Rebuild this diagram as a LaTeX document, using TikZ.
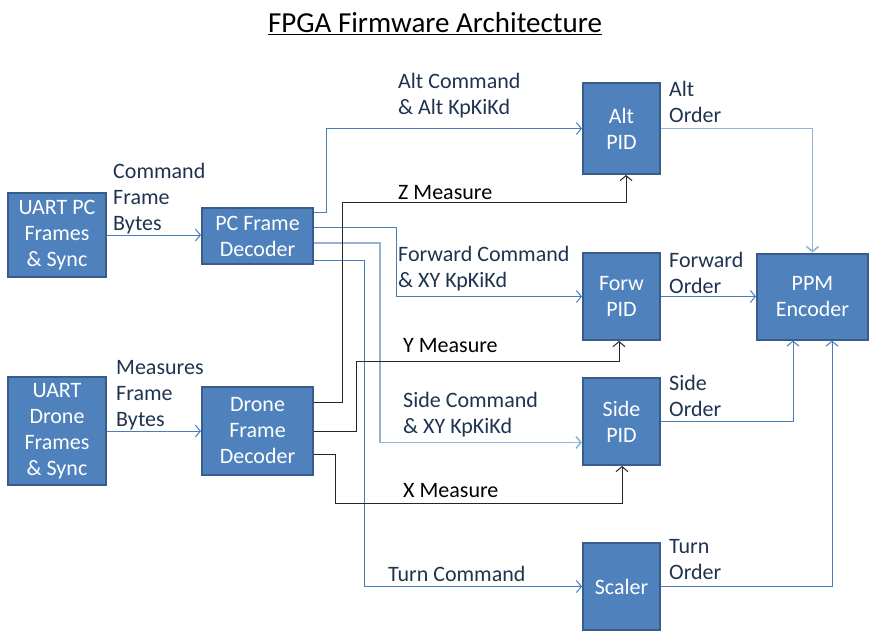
\documentclass[tikz,border=0pt]{standalone}
\usepackage{fontspec}
\setmainfont{Carlito}
\usetikzlibrary{arrows.meta}
\definecolor{boxfill}{HTML}{4F81BD}
\definecolor{boxline}{HTML}{385D8A}
\definecolor{wire}{HTML}{4A7EBB}
\definecolor{wirelight}{HTML}{95B3D7}
\definecolor{lbltext}{HTML}{1F3350}
\tikzset{
  box/.style={draw=boxline, line width=2pt, fill=boxfill, text=white, align=center,
    inner sep=0pt, font=\fontsize{22}{26}\selectfont},
  flow/.style={draw=wire, line width=1pt, -{Straight Barb[length=5pt,width=12pt]}},
  flowlight/.style={flow, draw=wirelight, line width=1.6pt},
  meas/.style={draw=black!85, line width=1pt, -{Straight Barb[length=5pt,width=12pt]}},
  lbl/.style={anchor=west, align=left, inner sep=0pt, text=lbltext, font=\fontsize{22}{26}\selectfont},
}
\begin{document}
\begin{tikzpicture}[x=1pt, y=-1pt]
    \useasboundingbox (0,0) rectangle (875,642);

    % Title
    \node (title) at (435, 24) {\fontsize{29}{34}\selectfont\underline{FPGA Firmware Architecture}};

    % Input blocks
    \node[box, minimum width=98pt, minimum height=84pt] (uartpc) at (57, 235) {UART PC\\Frames\\\& Sync};
    \node[box, minimum width=98pt, minimum height=108pt] (uartdrone) at (57, 431) {UART\\Drone\\Frames\\\& Sync};
    \node[box, minimum width=111pt, minimum height=56pt] (pcdec) at (257.5, 236) {PC Frame\\Decoder};
    \node[box, minimum width=111pt, minimum height=88pt] (dronedec) at (257.5, 431) {Drone\\Frame\\Decoder};

    % Controllers
    \node[box, minimum width=77pt, minimum height=91pt] (altpid) at (621.5, 128.5) {Alt\\PID};
    \node[box, minimum width=77pt, minimum height=87pt] (forwpid) at (621.5, 296.5) {Forw\\PID};
    \node[box, minimum width=77pt, minimum height=87pt] (sidepid) at (621.5, 421.5) {Side\\PID};
    \node[box, minimum width=77pt, minimum height=87pt] (scaler) at (621.5, 586.5) {Scaler};
    \node[box, minimum width=111pt, minimum height=86pt] (ppm) at (812.5, 296.5) {PPM\\Encoder};

    % Frame bytes
    \draw[flow] (uartpc.east) -- (uartpc.east -| pcdec.west);
    \draw[flow] (uartdrone.east) -- (uartdrone.east -| dronedec.west);
    \node[lbl] (cmdbytes) at (113, 199) {Command\\Frame\\Bytes};
    \node[lbl] (measbytes) at (116, 395) {Measures\\Frame\\Bytes};

    % Commands
    \draw[flow] ([yshift=24pt]pcdec.east) -- ++(12,0) |- (altpid.west);
    \draw[flow] ([yshift=9pt]pcdec.east) -- ++(82,0) |- (forwpid.west);
    \draw[flowlight] ([yshift=-7pt]pcdec.east) -- ++(66,0) |- ([yshift=-21pt]sidepid.west);
    \draw[flow] ([yshift=-24pt]pcdec.east) -- ++(50,0) |- (scaler.west);
    \node[lbl] (altcmd) at (398, 96) {Alt Command\\\& Alt KpKiKd};
    \node[lbl] (forwcmd) at (398, 269) {Forward Command\\\& XY KpKiKd};
    \node[lbl] (sidecmd) at (403, 415) {Side Command\\\& XY KpKiKd};
    \node[lbl] (turncmd) at (388, 574) {Turn Command};

    % Measures
    \draw[meas] ([yshift=29pt]dronedec.east) -- ++(28,0) -- ++(0,-200) -| ([xshift=4.5pt]altpid.south);
    \draw[meas] (dronedec.east) -- ++(42,0) -- ++(0,-70) -| ([xshift=-2.5pt]forwpid.south);
    \draw[meas] ([yshift=-23pt]dronedec.east) -- ++(21,0) -- ++(0,49) -| ([xshift=0.5pt]sidepid.south);
    \node[lbl, text=black] (zmeas) at (398, 193) {Z Measure};
    \node[lbl, text=black] (ymeas) at (403, 346) {Y Measure};
    \node[lbl, text=black] (xmeas) at (403, 491) {X Measure};

    % Orders
    \draw[flowlight] (altpid.east) -| (ppm.north);
    \draw[flow] (forwpid.east) -- (forwpid.east -| ppm.west);
    \draw[flow] (sidepid.east) -| ([xshift=-19.5pt]ppm.south);
    \draw[flow] (scaler.east) -| ([xshift=19.5pt]ppm.south);
    \node[lbl] (altord) at (669, 102) {Alt\\Order};
    \node[lbl] (forword) at (669, 273) {Forward\\Order};
    \node[lbl] (sideord) at (669, 396) {Side\\Order};
    \node[lbl] (turnord) at (669, 560) {Turn\\Order};

\end{tikzpicture}
\end{document}
